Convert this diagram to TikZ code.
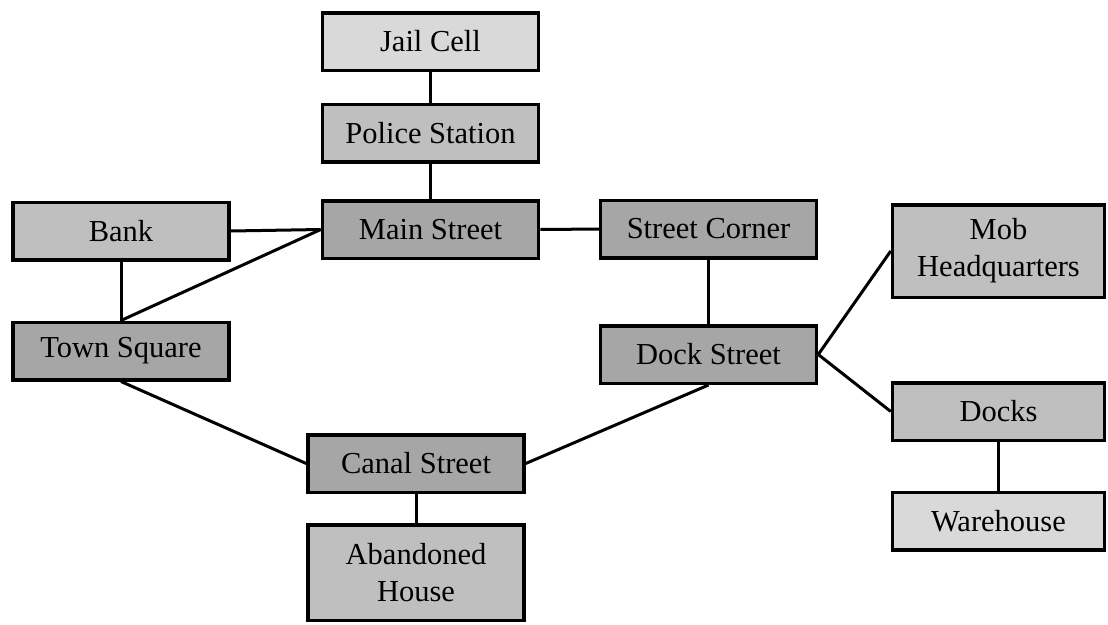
\documentclass[tikz,border=0pt]{standalone}
\usepackage{fontspec}
\setmainfont{Liberation Serif}
\definecolor{lightfill}{HTML}{D9D9D9}
\definecolor{midfill}{HTML}{BFBFBF}
\definecolor{darkfill}{HTML}{A6A6A6}
\begin{document}
\begin{tikzpicture}[
        x=1pt, y=-1pt,
        every node/.style={font=\fontsize{30.5}{37}\selectfont},
        box/.style={draw, rectangle, line width=3.5pt, minimum width=216pt, minimum height=57.5pt, inner sep=0pt, align=center},
        room/.style={box, fill=lightfill},
        place/.style={box, fill=midfill},
        street/.style={box, fill=darkfill},
        link/.style={line width=3pt, black}
    ]
        \useasboundingbox (0,0) rectangle (1108,624);

        % Centre
        \node[room] (jail) at (430.5, 41.5) {Jail Cell};
        \node[place] (police) at (430.5, 133) {Police Station};
        \node[street] (main) at (430.5, 229.5) {Main Street};

        % Lato sinistro
        \node[place] (bank) at (121, 231) {Bank};
        \node[street] (town) at (121, 351) {Town Square};
        \node[street] (canal) at (416, 463.5) {Canal Street};
        \node[place, minimum height=95.5pt] (house) at (416, 572.5) {Abandoned\\House};

        % Lato destro
        \node[street] (corner) at (708.5, 229) {Street Corner};
        \node[street] (dock) at (708.5, 354.5) {Dock Street};
        \node[place, minimum width=212pt, minimum height=92.5pt] (mob) at (998.5, 251) {Mob\\Headquarters};
        \node[place, minimum width=212pt] (docks) at (998.5, 411.5) {Docks};
        \node[room, minimum width=212pt] (ware) at (998.5, 521) {Warehouse};

        % Collegamenti
        \draw[link] (jail) -- (police);
        \draw[link] (police) -- (main);
        \draw[link] (bank.east) -- (main.west);
        \draw[link] (town.north) -- (main.west);
        \draw[link] (bank) -- (town);
        \draw[link] (main) -- (corner);
        \draw[link] (corner) -- (dock);
        \draw[link] (dock.east) -- (mob.west);
        \draw[link] (dock.east) -- (docks.west);
        \draw[link] (docks) -- (ware);
        \draw[link] (town.south) -- (canal.west);
        \draw[link] (canal.east) -- (dock.south);
        \draw[link] (canal) -- (house);

    \end{tikzpicture}
\end{document}
